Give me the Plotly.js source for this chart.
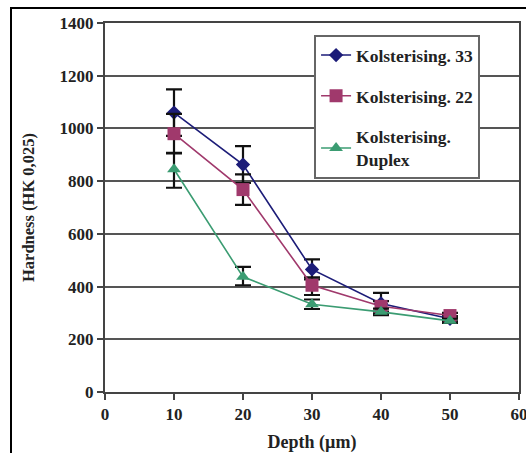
<!DOCTYPE html>
<html>
<head>
<meta charset="utf-8">
<script src="https://cdn.plot.ly/plotly-3.0.1.min.js"></script>
<style>
  html, body { margin:0; padding:0; background:#fff; }
  #wrap { position:relative; width:526px; height:453px; overflow:hidden; }
  #chart { position:absolute; left:0; top:0; width:526px; height:453px; }
  #frame { position:absolute; left:10px; top:7px; width:540px; height:470px; border-top:2px solid #000; border-left:2px solid #000; pointer-events:none; }
</style>
</head>
<body>
<div id="wrap">
  <div id="chart"></div>
  <div id="frame"></div>
</div>
<script>
const depth = [10, 20, 30, 40, 50];
const names = ["Kolsterising. 33", "Kolsterising. 22", "Kolsterising.<br>Duplex"];
const hk33 = [1060, 863, 465, 336, 278];
const hk22 = [980, 768, 405, 325, 290];
const hkDuplex = [845, 437, 333, 304, 270];
const err33Plus = [88, 70, 38, 40, 10];
const err33Minus = [88, 70, 38, 40, 10];
const err22Plus = [75, 58, 30, 20, 10];
const err22Minus = [75, 58, 37, 20, 10];
const errDuplexPlus = [62, 38, 18, 12, 8];
const errDuplexMinus = [70, 32, 18, 12, 8];
const colors = ["#1c1c78", "#a0396c", "#3b9c72"];
const symbols = ["diamond", "square", "triangle-up"];
const markerSizes = [11, 13, 12];

const ys = [hk33, hk22, hkDuplex];
const ePlus = [err33Plus, err22Plus, errDuplexPlus];
const eMinus = [err33Minus, err22Minus, errDuplexMinus];

const fam = "Liberation Serif, Times New Roman, serif";
const font = {family: fam, color: "#222", weight: 700};

const traces = names.map((n, i) => ({
  x: depth, y: ys[i], name: n, type: "scatter", mode: "lines+markers",
  legendgroup: "g" + i,
  line: {color: colors[i], width: 1.6},
  marker: {color: colors[i], symbol: symbols[i], size: markerSizes[i]},
  error_y: {type: "data", symmetric: false, array: ePlus[i], arrayminus: eMinus[i],
            color: "#111", thickness: 2.2, width: 8}
}));

const layout = {
  width: 526, height: 453,
  margin: {l: 105, r: 7, t: 23, b: 61},
  paper_bgcolor: "rgba(0,0,0,0)",
  plot_bgcolor: "#fff",
  font: font,
  showlegend: true,
  legend: {
    x: 0.505, y: 0.967, xanchor: "left", yanchor: "top",
    bgcolor: "#fff", bordercolor: "#666", borderwidth: 2,
    font: {family: fam, size: 17.5, color: "#222", weight: 700},
    tracegroupgap: 15, traceorder: "grouped"
  },
  xaxis: {
    range: [0, 60], tickvals: [0, 10, 20, 30, 40, 50, 60],
    showgrid: false, zeroline: false, ticklabeloverflow: "allow",
    showline: true, linecolor: "#444", linewidth: 2, mirror: true,
    ticks: "outside", ticklen: 6, tickwidth: 2, tickcolor: "#444",
    tickfont: {family: fam, size: 17, color: "#222", weight: 700},
    title: {text: "Depth (µm)", font: {family: fam, size: 18, color: "#222", weight: 700}, standoff: 13}
  },
  yaxis: {
    range: [0, 1400], dtick: 200,
    showgrid: true, gridcolor: "#555", gridwidth: 2, zeroline: false,
    showline: true, linecolor: "#444", linewidth: 2, mirror: true,
    ticks: "outside", ticklen: 6, tickwidth: 2, tickcolor: "#444",
    tickfont: {family: fam, size: 17, color: "#222", weight: 700},
    title: {text: "Hardness (HK 0,025)", font: {family: fam, size: 16.5, color: "#222", weight: 700}, standoff: 21}
  }
};

Plotly.newPlot("chart", traces, layout, {displayModeBar: false, staticPlot: true});
</script>
</body>
</html>
